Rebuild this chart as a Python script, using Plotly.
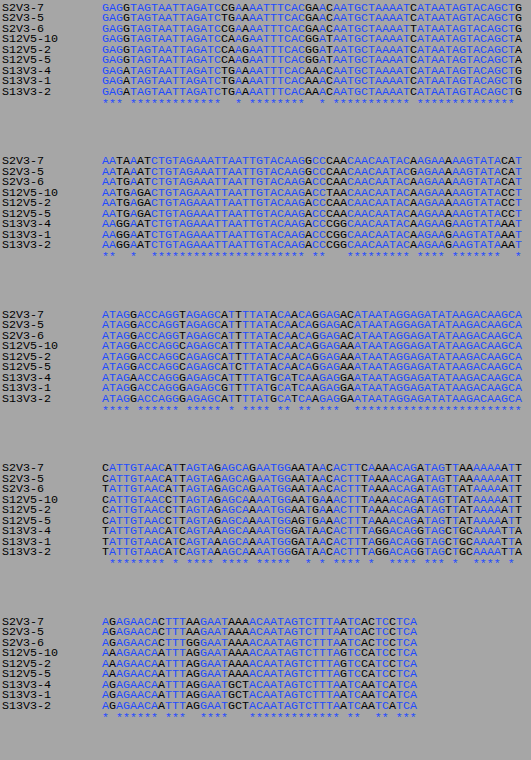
import plotly.graph_objects as go

names = ["S2V3-7", "S2V3-5", "S2V3-6", "S12V5-10", "S12V5-2",
         "S12V5-5", "S13V3-4", "S13V3-1", "S13V3-2"]

block1 = [
    "GAGGTAGTAATTAGATCCGAAAATTTCACGAACAATGCTAAAATCATAATAGTACAGCTG",
    "GAGGTAGTAATTAGATCTGAAAATTTCACGAACAATGCTAAAATCATAATAGTACAGCTG",
    "GAGGTAGTAATTAGATCCGAAAATTTCACGAACAATGCTAAAATTATAATAGTACAGCTG",
    "GAGGTAGTAATTAGATCCAAGAATTTCACGGATAATGCTAAAATCATAATAGTACAGCTA",
    "GAGGTAGTAATTAGATCCAAGAATTTCACGGATAATGCTAAAATCATAATAGTACAGCTA",
    "GAGGTAGTAATTAGATCCAAGAATTTCACGGATAATGCTAAAATCATAATAGTACAGCTA",
    "GAGATAGTAATTAGATCTGAAAATTTCACAAACAATGCTAAAATCATAATAGTACAGCTG",
    "GAGATAGTAATTAGATCTGAAAATTTCACAAACAATGCTAAAATCATAATAGTACAGCTG",
    "GAGATAGTAATTAGATCTGAAAATTTCACAAACAATGCTAAAATCATAATAGTACAGCTG",
]
block2 = [
    "AATAAATCTGTAGAAATTAATTGTACAAGGCCCAACAACAATACAAGAAAAAGTATACAT",
    "AATAAATCTGTAGAAATTAATTGTACAAGGCCCAACAACAATACGAGAAAAAGTATACAT",
    "AATGAATCTGTAGAAATTAATTGTACAAGACCCAACAACAATACAAGAAAAAGTATACAT",
    "AATGAGACTGTAGAAATTAATTGTACAAGACCTAACAACAATACAAGAAAAAGTATACCT",
    "AATGAGACTGTAGAAATTAATTGTACAAGACCCAACAACAATACAAGAAAAAGTATACCT",
    "AATGAGACTGTAGAAATTAATTGTACAAGACCCAACAACAATACAAGAAAAAGTATACCT",
    "AAGGAATCTGTAGAAATTAATTGTACAAGACCCGGCAACAATACAAGAAGAAGTATAAAT",
    "AAGGAATCTGTAGAAATTAATTGTACAAGACCCGGCAACAATACAAGAAGAAGTATAAAT",
    "AAGGAATCTGTAGAAATTAATTGTACAAGACCCGGCAACAATACAAGAAGAAGTATAAAT",
]
block3 = [
    "ATAGGACCAGGTAGAGCATTTTATACAACAGGAGACATAATAGGAGATATAAGACAAGCA",
    "ATAGGACCAGGTAGAGCATTTTATACAACAGGAGACATAATAGGAGATATAAGACAAGCA",
    "ATAGGACCAGGTAGAGCATTTTATACAACAGGAGACATAATAGGAGATATAAGACAAGCA",
    "ATAGGACCAGGCAGAGCATTTTATACAACAGGAGAAATAATAGGAGATATAAGACAAGCA",
    "ATAGGACCAGGCAGAGCATTTTATACAACAGGAGAAATAATAGGAGATATAAGACAAGCA",
    "ATAGGACCAGGCAGAGCATCTTATACAACAGGAGAAATAATAGGAGATATAAGACAAGCA",
    "ATAGAACCAGGGAGAGCATTTTATGCATCAAGAGGAATAATAGGAGATATAAGACAAGCA",
    "ATAGGACCAGGGAGAGCGTTTTATGCATCAAGAGGAATAATAGGAGATATAAGACAAGCA",
    "ATAGGACCAGGGAGAGCATTTTATGCATCAAGAGGAATAATAGGAGATATAAGACAAGCA",
]
block4 = [
    "CATTGTAACATTAGTAGAGCAGAATGGAATAACACTTCAAAACAGATAGTTAAAAAAATTA",
    "CATTGTAACATTAGTAGAGCAGAATGGAATAACACTTTAAAACAGATAGTTAAAAAAATTA",
    "TATTGTAACATTAGTAGAGCAGAATGGAATAACACTTTAAAACAGATAGTTATAAAAATTA",
    "CATTGTAACCTTAGTAGAGCAAAATGGAATGAAACTTTAAAACAGATAGTTATAAAAATTA",
    "CATTGTAACCTTAGTAGAGCAAAATGGAATGAAACTTTAAAACAGATAGTTATAAAAATTA",
    "CATTGTAACCTTAGTAGAGCAAAATGGAGTGAAACTTTAAAACAGATAGTTATAAAAATTG",
    "TATTGTAACATCAGTAAAGCAAAATGGGATAACACTTTAGGACAGGTAGCTGCAAAATTA",
    "TATTGTAACATCAGTAAAGCAAAATGGGATAACACTTTAGGACAGGTAGCTGCAAAATTA",
    "TATTGTAACATCAGTAAAGCAAAATGGGATAACACTTTAGGACAGGTAGCTGCAAAATTA",
]
block5 = [
    "AGAGAACACTTTAAGAATAAAACAATAGTCTTTAATCACTCCTCA",
    "AGAGAACACTTTAAGAATAAAACAATAGTCTTTAATCACTCCTCA",
    "AGAGAACACTTTGGGAATAAAACAATAGTCTTTAATCACTCCTCA",
    "AAAGAACAATTTAGGAATAAAACAATAGTCTTTAGTCCATCCTCA",
    "AAAGAACAATTTAGGAATAAAACAATAGTCTTTAGTCCATCCTCA",
    "AAAGAACAATTTAGGAATAAAACAATAGTCTTTAGTCCATCCTCA",
    "AGAGAACAATTTAGGAATGCTACAATAGTCTTTAATCAATCATCA",
    "AGAGAACAATTTAGGAATGCTACAATAGTCTTTAATCAATCATCA",
    "AGAGAACAATTTAGGAATGCTACAATAGTCTTTAATCAATCATCA",
]
blocks = [block1, block2, block3, block4, block5]

BLUE = "#1f4bff"
BLACK = "#000000"
BG = "#a6a6a6"
FONT = "Liberation Mono"

def conserved(block):
    return [len(set(col)) == 1 for col in zip(*block)]

fig = go.Figure()
xs, ys, texts = [], [], []
for b, block in enumerate(blocks):
    cons = conserved(block)
    y0 = 8 + b * 153.5
    for r, (name, seq) in enumerate(zip(names, block)):
        y = y0 + r * 10.5
        xs.append(2); ys.append(y); texts.append(name)
        html = ""
        for ch, c in zip(seq, cons):
            html += f"<span style='color:{BLUE if c else BLACK}'>{ch}</span>"
        xs.append(102); ys.append(y); texts.append(html)
    star = "".join("*" if c else "&nbsp;" for c in cons)
    xs.append(102); ys.append(y0 + 9 * 10.5 + 1.5)
    texts.append(f"<span style='color:{BLUE}'>{star}</span>")

fig.add_trace(go.Scatter(
    x=xs, y=ys, text=texts, mode="text",
    textposition="middle right",
    textfont=dict(family=FONT, size=11.67, color=BLACK),
    hoverinfo="skip",
))

fig.update_layout(
    width=531, height=760,
    margin=dict(l=0, r=0, t=0, b=0),
    paper_bgcolor=BG, plot_bgcolor=BG,
    showlegend=False,
    xaxis=dict(range=[0, 531], visible=False, fixedrange=True),
    yaxis=dict(range=[760, 0], visible=False, fixedrange=True),
)
fig.write_html("out.html", config={"displayModeBar": False})

# drop the default page margin so the figure fills the window
with open("out.html") as f:
    page = f.read()
page = page.replace("<body>", f"<body style='margin:0;overflow:hidden;background:{BG}'>", 1)
with open("out.html", "w") as f:
    f.write(page)
